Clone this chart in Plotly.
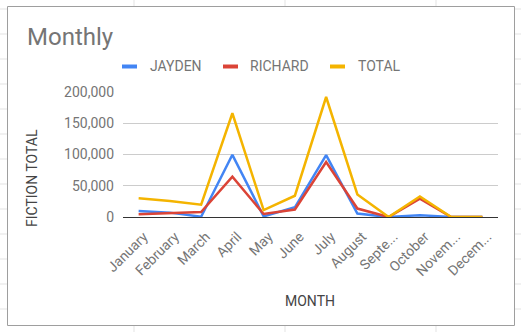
import plotly.graph_objects as go

months = ["January", "February", "March", "April", "May", "June", "July",
          "August", "September", "October", "November", "December"]
month_labels = ["January", "February", "March", "April", "May", "June", "July",
                "August", "Septe...", "October", "Novem...", "Decem..."]
jayden = [9500, 7000, 500, 99500, 1000, 15500, 99000, 5500, 0, 3000, 0, 0]
richard = [4300, 6000, 8000, 64500, 4800, 12000, 88000, 13500, 0, 29500, 0, 0]
total = [30000, 25700, 19800, 166000, 11000, 34000, 192000, 36000, 0, 33000, 0, 0]
series_names = ["JAYDEN", "RICHARD", "TOTAL"]
series_colors = ["#4285F4", "#DB4437", "#F4B400"]
y_ticks = [0, 50000, 100000, 150000, 200000]

W, H = 521, 332
ML, MR, MT, MB = 123, 23, 92, 115
PW, PH = W - ML - MR, H - MT - MB


def px(x):
    return (x - ML) / PW


def py(y):
    return (H - MB - y) / PH


fig = go.Figure()
for name, vals, col in zip(series_names, [jayden, richard, total], series_colors):
    fig.add_trace(go.Scatter(x=months, y=vals, mode="lines", name=name,
                             line=dict(color=col, width=2.5), cliponaxis=False,
                             showlegend=False))

shapes = []
grid_col = "#e3e3e3"
# spreadsheet grid around chart box
for k in range(14):
    yy = 9 + 25 * k
    shapes.append(dict(type="line", xref="paper", yref="paper", x0=px(0), x1=px(7),
                       y0=py(yy), y1=py(yy), line=dict(color=grid_col, width=1), layer="below"))
    shapes.append(dict(type="line", xref="paper", yref="paper", x0=px(515), x1=px(521),
                       y0=py(yy), y1=py(yy), line=dict(color=grid_col, width=1), layer="below"))
for xx in [134, 285, 436]:
    shapes.append(dict(type="line", xref="paper", yref="paper", x0=px(xx), x1=px(xx),
                       y0=py(0), y1=py(6), line=dict(color=grid_col, width=1), layer="below"))
    shapes.append(dict(type="line", xref="paper", yref="paper", x0=px(xx), x1=px(xx),
                       y0=py(326), y1=py(332), line=dict(color=grid_col, width=1), layer="below"))
# chart box border
shapes.append(dict(type="rect", xref="paper", yref="paper", x0=px(7.5), x1=px(514.5),
                   y0=py(325.5), y1=py(6.5), line=dict(color="#9e9e9e", width=1),
                   fillcolor="rgba(0,0,0,0)", layer="below"))

annotations = []
# title
annotations.append(dict(text="Monthly", x=px(25), y=py(36.5), xref="paper", yref="paper",
                        xanchor="left", yanchor="middle", showarrow=False,
                        font=dict(family="Roboto", size=24, color="#757575")))
# manual legend
leg_sw = [122, 223, 330]
leg_tx = [148, 248, 356]
for name, col, sx, tx in zip(series_names, series_colors, leg_sw, leg_tx):
    shapes.append(dict(type="line", xref="paper", yref="paper", x0=px(sx), x1=px(sx + 15),
                       y0=py(66.5), y1=py(66.5), line=dict(color=col, width=4)))
    annotations.append(dict(text=name, x=px(tx), y=py(66), xref="paper", yref="paper",
                            xanchor="left", yanchor="middle", showarrow=False,
                            font=dict(family="Roboto", size=14, color="#757575")))
# axis titles
annotations.append(dict(text="MONTH", x=px(310), y=py(300.5), xref="paper", yref="paper",
                        xanchor="center", yanchor="middle", showarrow=False,
                        font=dict(family="Roboto", size=14, color="#444444")))
annotations.append(dict(text="FICTION TOTAL", x=px(32), y=py(178), xref="paper", yref="paper",
                        xanchor="center", yanchor="middle", showarrow=False, textangle=-90,
                        font=dict(family="Roboto", size=14, color="#444444")))

fig.update_layout(
    width=W, height=H,
    margin=dict(l=ML, r=MR, t=MT, b=MB, autoexpand=False),
    paper_bgcolor="white", plot_bgcolor="white",
    shapes=shapes, annotations=annotations,
    xaxis=dict(type="category", range=[-0.5, 11.5], tickmode="array", tickvals=months,
               ticktext=month_labels, tickangle=-45, showgrid=False, zeroline=False,
               showline=True, linecolor="#333333", linewidth=1, ticks="",
               ticklabelstandoff=5, ticklabelshift=5,
               tickfont=dict(family="Roboto", size=14, color="#757575")),
    yaxis=dict(range=[0, 200000], tickvals=y_ticks, tickformat=",d", showgrid=True,
               gridcolor="#cccccc", gridwidth=1, zeroline=False, showline=False, ticks="",
               ticklabelstandoff=8,
               tickfont=dict(family="Roboto", size=14, color="#757575")),
    font=dict(family="Roboto"),
)

fig.write_html("out.html")
